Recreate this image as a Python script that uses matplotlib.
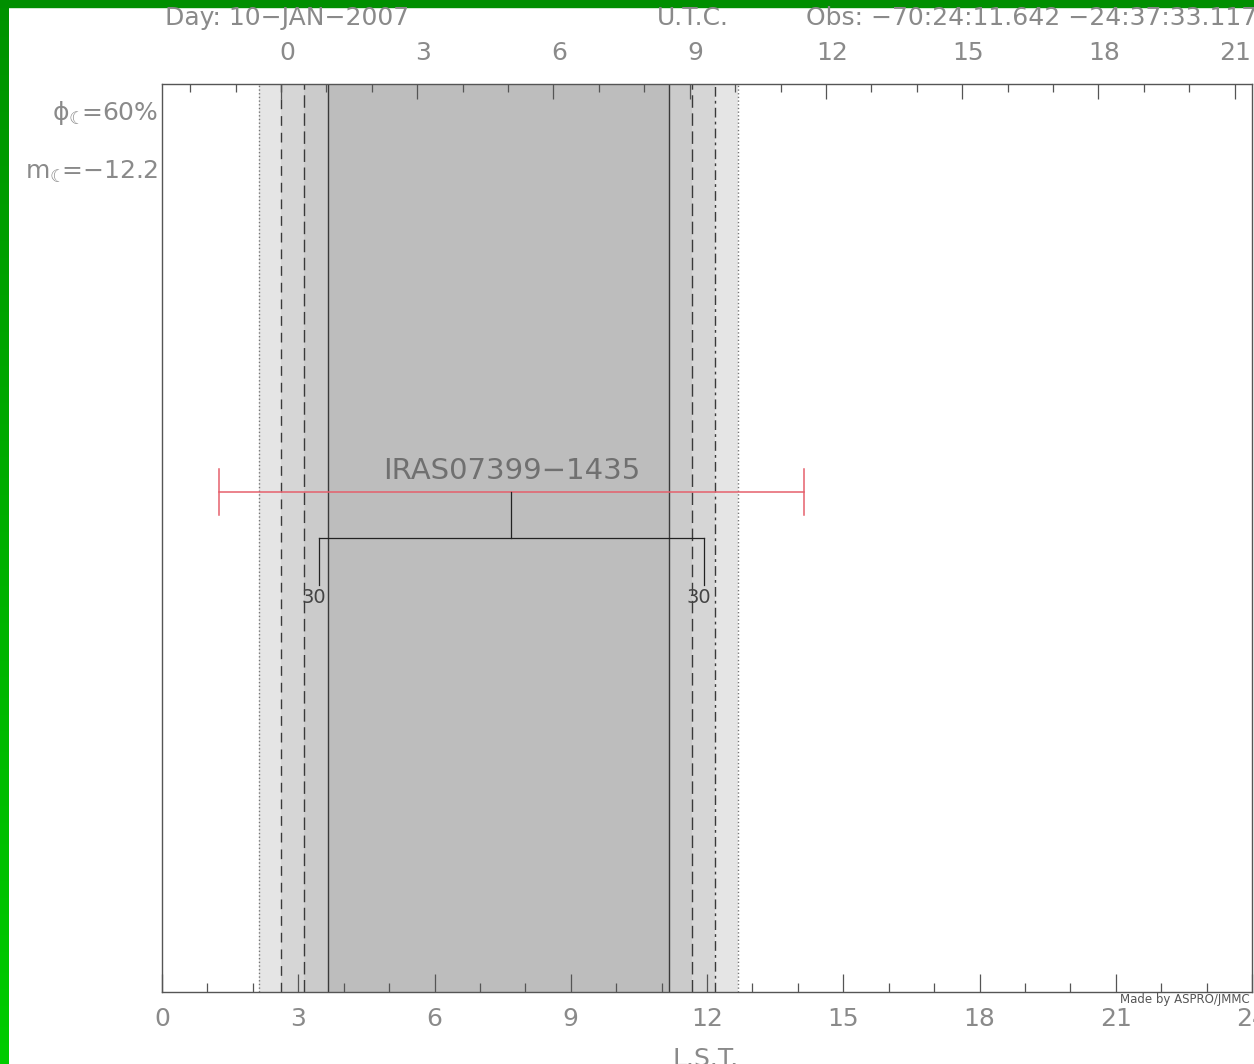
import matplotlib
matplotlib.use('Agg')
import matplotlib.pyplot as plt
import numpy as np
from matplotlib.patches import Rectangle
from matplotlib.transforms import ScaledTranslation
from matplotlib.colors import LinearSegmentedColormap

# ---- data ----
day_text = 'Day: 10\u2212JAN\u22122007'
utc_text = 'U.T.C.'
obs_text = 'Obs: \u221270:24:11.642 \u221224:37:33.117'
moon_phase = '60%'
moon_mag = '\u221212.2'
lst_minus_utc = 2.62          # hours

# sun limits in LST hours (outer -> inner on the evening side, inner -> outer in the morning)
dusk = [2.13, 2.62, 3.12, 3.65]
dawn = [11.16, 11.67, 12.18, 12.68]
dusk_styles = [':', (0, (7, 5)), (0, (9, 4)), '-']
dawn_styles = ['-', (0, (9, 4)), (0, (7, 3, 2, 3)), ':']
band_colors = ['#e5e5e5', '#d6d6d6', '#cbcbcb', '#bdbdbd']

star_name = 'IRAS07399\u22121435'
star_range = [1.25, 14.13]     # red bar
star_transit = 7.69
star_elev_lim = [3.45, 11.93]  # 30 deg elevation
elev_label = '30'

lst_ticks = list(range(0, 25, 3))
utc_ticks = list(range(0, 22, 3))

W, H = 1254, 1064
plt.rcParams['mathtext.fontset'] = 'dejavusans'
plt.rcParams['mathtext.default'] = 'regular'

fig = plt.figure(figsize=(W / 100, H / 100), dpi=100, facecolor='white')

def fx(x):
    return x / W

def fy(y):
    return 1 - y / H

# green frame (top band + left gradient strip)
gax = fig.add_axes([0, 0, fx(9), 1], zorder=-5)
grad = np.linspace(0, 1, 256).reshape(-1, 1)
gcm = LinearSegmentedColormap.from_list('g', ['#009200', '#00cc00'])
gax.imshow(grad, aspect='auto', cmap=gcm, extent=[0, 1, 0, 1], origin='upper')
gax.axis('off')
fig.add_artist(Rectangle((0, fy(7)), 1, 7 / H, transform=fig.transFigure,
                         color='#008f00', zorder=-4))

ax = fig.add_axes([fx(162), fy(992), fx(1252) - fx(162), (992 - 84) / H])
ax.set_xlim(0, 24)
ax.set_ylim(1, 0)

# twilight shading
for i in range(4):
    ax.axvspan(dusk[i], dawn[3 - i], color=band_colors[i], lw=0, zorder=0)
for x, ls in zip(dusk, dusk_styles):
    ax.axvline(x, color='#777777' if ls == ':' else '#3a3a3a', ls=ls, lw=1.0, zorder=1)
for x, ls in zip(dawn, dawn_styles):
    ax.axvline(x, color='#777777' if ls == ':' else '#3a3a3a', ls=ls, lw=1.0, zorder=1)

# star visibility
sy = 0.449
ax.plot(star_range, [sy, sy], color='#e5606c', lw=1.1, zorder=3)
for x in star_range:
    ax.plot([x, x], [sy - 0.025, sy + 0.026], color='#e5606c', lw=1.1, zorder=3)
ax.text(star_transit, 0.426, star_name, ha='center', va='center',
        fontsize=21, color='#707070', zorder=4)
ax.plot([star_transit, star_transit], [sy, 0.5], color='#222222', lw=0.9, zorder=3)
ax.plot(star_elev_lim, [0.5, 0.5], color='#222222', lw=0.9, zorder=3)
for x in star_elev_lim:
    ax.plot([x, x], [0.5, 0.552], color='#222222', lw=0.9, zorder=3)
    ax.text(x - 0.1, 0.565, elev_label, ha='center', va='center',
            fontsize=14, color='#444444', zorder=4)

# axes styling
for s in ax.spines.values():
    s.set_color('#555555')
    s.set_linewidth(1.0)
ax.set_yticks([])
ax.set_xticks(lst_ticks)
ax.set_xticks(range(0, 25), minor=True)
ax.tick_params(axis='x', which='major', direction='in', length=13, width=0.9,
               color='#555555', labelsize=18, labelcolor='#8a8a8a', pad=11)
ax.tick_params(axis='x', which='minor', direction='in', length=6.5, width=0.9,
               color='#555555')

ax2 = ax.twiny()
ax2.set_xlim(-lst_minus_utc, 24 - lst_minus_utc)
ax2.set_xticks(utc_ticks)
ax2.set_xticks(range(-2, 22), minor=True)
ax2.tick_params(axis='x', which='major', direction='in', length=11, width=0.9,
                color='#555555', labelsize=18, labelcolor='#8a8a8a', pad=14)
ax2.tick_params(axis='x', which='minor', direction='in', length=6, width=0.9,
                color='#555555')
for s in ax2.spines.values():
    s.set_visible(False)
off = ScaledTranslation(0.06, 0, fig.dpi_scale_trans)
for lab in ax2.get_xticklabels()[:-1]:
    lab.set_transform(lab.get_transform() + off)

# header and annotations
grey = '#8a8a8a'
moon = '\u263e'
fig.text(fx(165), fy(18), day_text, ha='left', va='center', fontsize=18, color=grey)
fig.text(fx(693), fy(18), utc_text, ha='center', va='center', fontsize=18, color=grey)
fig.text(fx(806), fy(18), obs_text, ha='left', va='center', fontsize=18, color=grey)
fig.text(fx(158), fy(113), '$\\phi_{' + moon + '}\\!$=' + moon_phase, ha='right',
         va='center', fontsize=18, color=grey)
fig.text(fx(158), fy(172), 'm$_{' + moon + '}\\!$=' + moon_mag, ha='right',
         va='center', fontsize=18, color=grey)
fig.text(fx(706), fy(1047), 'L.S.T.', ha='center', va='top', fontsize=18, color=grey)
fig.text(fx(1250), fy(999), 'Made by ASPRO/JMMC', ha='right', va='center',
         fontsize=8.5, color='#555555')

fig.savefig('out.png', dpi=100, facecolor='white')
